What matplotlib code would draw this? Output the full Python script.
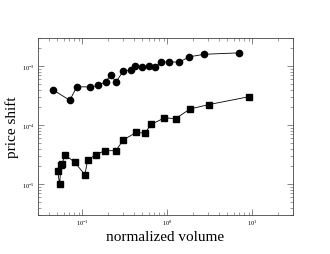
import matplotlib
matplotlib.use("Agg")
import matplotlib.pyplot as plt
from matplotlib.ticker import LogLocator, NullFormatter

plt.rcParams['font.family'] = ['Liberation Serif', 'DejaVu Serif']
plt.rcParams['mathtext.fontset'] = 'stix'

circ_x = [0.0447, 0.0711, 0.0859, 0.123, 0.154, 0.187, 0.214, 0.249, 0.304, 0.370,
          0.420, 0.501, 0.611, 0.711, 0.836, 1.055, 1.37, 1.81, 2.71, 6.87]
circ_y = [3.99e-4, 2.64e-4, 4.49e-4, 4.43e-4, 4.72e-4, 5.45e-4, 6.97e-4, 5.45e-4, 8.34e-4, 8.57e-4,
          1.01e-3, 9.5e-4, 1.0e-3, 9.5e-4, 1.17e-3, 1.18e-3, 1.17e-3, 1.44e-3, 1.59e-3, 1.68e-3]

sq_x = [0.0511, 0.054, 0.0559, 0.0579, 0.0617, 0.0814, 0.107, 0.115, 0.143, 0.184,
        0.247, 0.304, 0.430, 0.543, 0.644, 0.922, 1.25, 1.84, 3.06, 9.14]
sq_y = [1.68e-5, 9.87e-6, 2.14e-5, 2.17e-5, 3.16e-5, 2.35e-5, 1.44e-5, 2.54e-5, 3.16e-5, 3.69e-5,
        3.69e-5, 5.66e-5, 7.52e-5, 7.33e-5, 1.03e-4, 1.33e-4, 1.29e-4, 1.88e-4, 2.23e-4, 3.04e-4]

fig = plt.figure(figsize=(3.3, 2.55), dpi=100)
ax = fig.add_axes([0.115, 0.153, 0.773, 0.694])

ax.plot(circ_x, circ_y, '-o', color='black', lw=0.6, ms=4.5, mfc='black', mec='black')
ax.plot(sq_x, sq_y, '-s', color='black', lw=0.6, ms=4.0, mfc='black', mec='black')

ax.set_xscale('log')
ax.set_yscale('log')
ax.set_xlim(0.03, 30)
ax.set_ylim(3e-6, 3e-3)

ax.xaxis.set_major_locator(LogLocator(base=10, numticks=10))
ax.yaxis.set_major_locator(LogLocator(base=10, numticks=10))
ax.xaxis.set_minor_locator(LogLocator(base=10, subs=range(2, 10), numticks=10))
ax.yaxis.set_minor_locator(LogLocator(base=10, subs=range(2, 10), numticks=10))
ax.xaxis.set_minor_formatter(NullFormatter())
ax.yaxis.set_minor_formatter(NullFormatter())

ax.tick_params(which='both', direction='in', top=True, right=True, color='#555555')
ax.tick_params(which='major', length=4, width=0.5, labelsize=4.5, pad=2)
ax.tick_params(which='minor', length=2, width=0.4)
for s in ax.spines.values():
    s.set_linewidth(0.6)
    s.set_color('#444444')

ax.set_xlabel('normalized volume', fontsize=11, labelpad=2)
ax.set_ylabel('price shift', fontsize=11, labelpad=2)

fig.savefig('out.png', dpi=100)
